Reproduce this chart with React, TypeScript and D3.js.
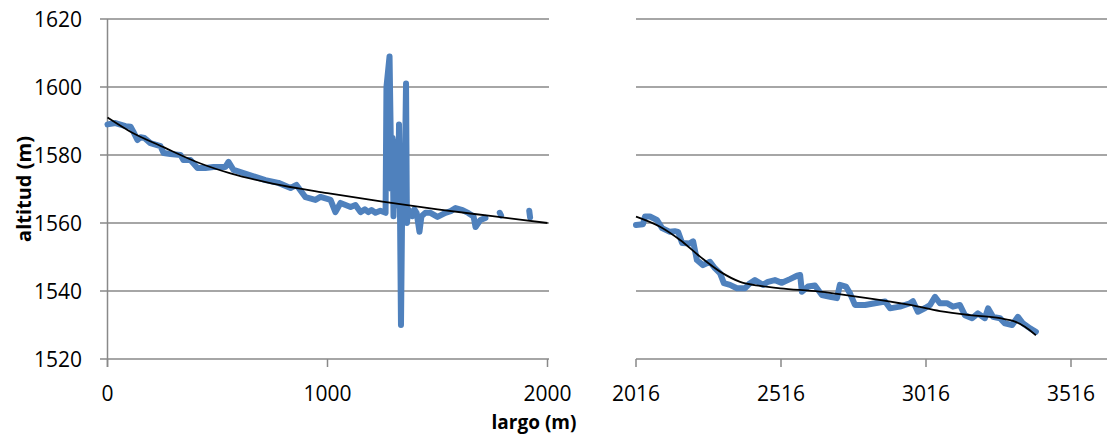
import React from "react";
import * as d3 from "d3";

// ---- data ----
const yTicks = [1520, 1540, 1560, 1580, 1600, 1620];
const leftXTicks = [0, 1000, 2000];
const rightXTicks = [2016, 2516, 3016, 3516];

// left section: largo (m) / altitud (m); null = gap
const leftX: (number | null)[] = [
  0, 36, 82, 105, 118, 136, 150, 168, 195, 241, 255, 286, 332, 345, 377, 409, 445, 482, 536, 550, 573,
  650, 718, 777, 832, 859, 900, 945, 968, 1014, 1036, 1059, 1082, 1105, 1127, 1150, 1170, 1186, 1200, 1218, 1240, 1264,
  1268, 1282, 1291, 1296, 1300, 1305, 1309, 1313, 1318, 1322, 1325, 1330, 1334, 1339, 1345, 1350, 1357, 1361, 1368,
  1377, 1386, 1395, 1405, 1418, 1427, 1445, 1468, 1500, 1536, 1560, 1582, 1614, 1641, 1664, 1673, 1695, 1718,
  null, 1783, 1789, null, 1917, 1921,
];
const leftY: (number | null)[] = [
  1589, 1589.4, 1588.5, 1588.3, 1586.8, 1584.4, 1585.2, 1585, 1583.5, 1582.6, 1580.6, 1580.3, 1580, 1578.5, 1578.5, 1576.2, 1576.2, 1576.5, 1576.5, 1578, 1575.6,
  1574, 1572.6, 1571.8, 1570.3, 1571.2, 1567.6, 1566.8, 1567.7, 1566.8, 1563.2, 1565.9, 1565.3, 1564.7, 1565.3, 1563.2, 1564, 1563.2, 1563.8, 1563, 1563.6, 1563,
  1600, 1609, 1570, 1585, 1562, 1575, 1565, 1584, 1580, 1566, 1589, 1560, 1530, 1562, 1580, 1568, 1601, 1560, 1564,
  1563, 1562, 1564, 1563, 1557.4, 1562, 1563, 1563, 1561.8, 1563, 1563.5, 1564.4, 1563.8, 1562.9, 1561.9, 1558.8, 1560.9, 1561.5,
  null, 1563, 1562.2, null, 1563.6, 1561.6,
];
const leftTrendX = [0, 100, 255, 423, 559, 750, 1000, 1250, 1500, 1750, 2000];
const leftTrendY = [1591, 1587, 1582.3, 1577.5, 1574.6, 1571.6, 1568.8, 1566.3, 1564, 1562, 1560];

// right section
const rightX = [
  2016, 2040, 2047, 2064, 2088, 2106, 2133, 2150, 2161, 2175, 2202, 2213, 2226, 2247, 2271, 2288, 2306, 2319, 2340, 2364,
  2392, 2409, 2426, 2454, 2471, 2495, 2519, 2547, 2571, 2582, 2588, 2609, 2633, 2657, 2685, 2709, 2719, 2740, 2754, 2771,
  2806, 2840, 2875, 2892, 2926, 2961, 2971, 2988, 3013, 3030, 3047, 3064, 3088, 3109, 3133, 3150, 3175, 3195, 3219, 3230,
  3247, 3271, 3288, 3313, 3333, 3350, 3375, 3395,
];
const rightY = [
  1559.4, 1559.6, 1561.9, 1561.9, 1560.9, 1558.5, 1557.4, 1557.6, 1557.4, 1554.1, 1554, 1554.6, 1549.1, 1547.6, 1548.6, 1546.7, 1545.2, 1542.3, 1541.8, 1540.8,
  1540.8, 1542.3, 1543.2, 1541.8, 1542.7, 1543.2, 1542.4, 1543.5, 1544.5, 1544.7, 1539.8, 1541.3, 1541.6, 1538.8, 1538.3, 1537.9, 1541.8, 1541.3, 1539.3, 1535.9,
  1535.9, 1536.4, 1536.9, 1534.9, 1535.4, 1536.4, 1537, 1533.9, 1535, 1535.9, 1538.3, 1536.4, 1536.4, 1535.4, 1535.9, 1532.9, 1532, 1533.4, 1532, 1534.9,
  1532.4, 1532, 1530.5, 1530, 1532.4, 1530.5, 1529, 1528,
];
const rightTrendX = [2016, 2099, 2168, 2237, 2306, 2375, 2444, 2513, 2650, 2764, 2926, 2961, 3064, 3168, 3271, 3323, 3357, 3395];
const rightTrendY = [1561.9, 1558.9, 1555, 1550.1, 1545.7, 1542.7, 1541.5, 1540.8, 1539.8, 1538.5, 1536.4, 1535.9, 1534.1, 1532.9, 1532, 1531, 1529.5, 1527];

const W = 1107;
const H = 434;
const FONT = "'Open Sans', 'Liberation Sans', sans-serif";
const GRID = "#898989";
const BLUE = "#4F81BD";

export default function App() {
  const y = d3.scaleLinear().domain([1520, 1620]).range([359, 19]);
  const xl = d3.scaleLinear().domain([0, 2000]).range([107.5, 547.5]);
  const xr = d3.scaleLinear().domain([2016, 3516]).range([636, 1071]);

  const mk = (xs: (number | null)[], ys: (number | null)[]) =>
    xs.map((v, i) => [v, ys[i]] as [number | null, number | null]);

  const lineL = d3
    .line<[number | null, number | null]>()
    .defined((d) => d[0] != null && d[1] != null)
    .x((d) => xl(d[0] as number))
    .y((d) => y(d[1] as number));
  const lineR = d3
    .line<[number | null, number | null]>()
    .defined((d) => d[0] != null && d[1] != null)
    .x((d) => xr(d[0] as number))
    .y((d) => y(d[1] as number));
  const trendL = d3
    .line<[number | null, number | null]>()
    .curve(d3.curveMonotoneX)
    .x((d) => xl(d[0] as number))
    .y((d) => y(d[1] as number));
  const trendR = d3
    .line<[number | null, number | null]>()
    .curve(d3.curveMonotoneX)
    .x((d) => xr(d[0] as number))
    .y((d) => y(d[1] as number));

  return (
    <svg
      width={W}
      height={H}
      style={{ position: "absolute", left: 0, top: 0, background: "#fff" }}
      fontFamily={FONT}
    >
      {/* gridlines */}
      {yTicks.map((t) => (
        <g key={t}>
          <line x1={100} x2={549} y1={y(t)} y2={y(t)} stroke={GRID} strokeWidth={1.5} />
          <line x1={636} x2={W} y1={y(t)} y2={y(t)} stroke={GRID} strokeWidth={1.5} />
        </g>
      ))}
      {/* left y axis line */}
      <line x1={xl(0)} x2={xl(0)} y1={y(1620)} y2={y(1520) + 8} stroke={GRID} strokeWidth={1.5} />
      {/* x ticks */}
      {leftXTicks.map((t) => (
        <line key={"lt" + t} x1={xl(t)} x2={xl(t)} y1={y(1520)} y2={y(1520) + 8} stroke={GRID} strokeWidth={1.5} />
      ))}
      {rightXTicks.map((t) => (
        <line key={"rt" + t} x1={xr(t)} x2={xr(t)} y1={y(1520)} y2={y(1520) + 8} stroke={GRID} strokeWidth={1.5} />
      ))}
      {/* y tick labels */}
      {yTicks.map((t) => (
        <text key={"yl" + t} x={82} y={y(t)} dy="0.36em" textAnchor="end" fontSize={21} fill="#000">
          {t}
        </text>
      ))}
      {/* x tick labels */}
      {leftXTicks.map((t) => (
        <text key={"xl" + t} x={xl(t)} y={401} textAnchor="middle" fontSize={21} fill="#000">
          {t}
        </text>
      ))}
      {rightXTicks.map((t) => (
        <text key={"xr" + t} x={xr(t)} y={401} textAnchor="middle" fontSize={21} fill="#000">
          {t}
        </text>
      ))}
      {/* data */}
      <path d={lineL(mk(leftX, leftY)) || ""} fill="none" stroke={BLUE} strokeWidth={6} strokeLinejoin="round" strokeLinecap="round" />
      <path d={lineR(mk(rightX, rightY)) || ""} fill="none" stroke={BLUE} strokeWidth={6} strokeLinejoin="round" strokeLinecap="round" />
      <path d={trendL(mk(leftTrendX, leftTrendY)) || ""} fill="none" stroke="#000" strokeWidth={1.8} />
      <path d={trendR(mk(rightTrendX, rightTrendY)) || ""} fill="none" stroke="#000" strokeWidth={1.8} />
      {/* axis titles */}
      <text
        transform={`translate(31,${189}) rotate(-90)`}
        textAnchor="middle"
        fontSize={20}
        fontWeight="bold"
        fill="#000"
      >
        altitud (m)
      </text>
      <text x={534} y={429} textAnchor="middle" fontSize={19} fontWeight="bold" fill="#000">
        largo (m)
      </text>
    </svg>
  );
}
